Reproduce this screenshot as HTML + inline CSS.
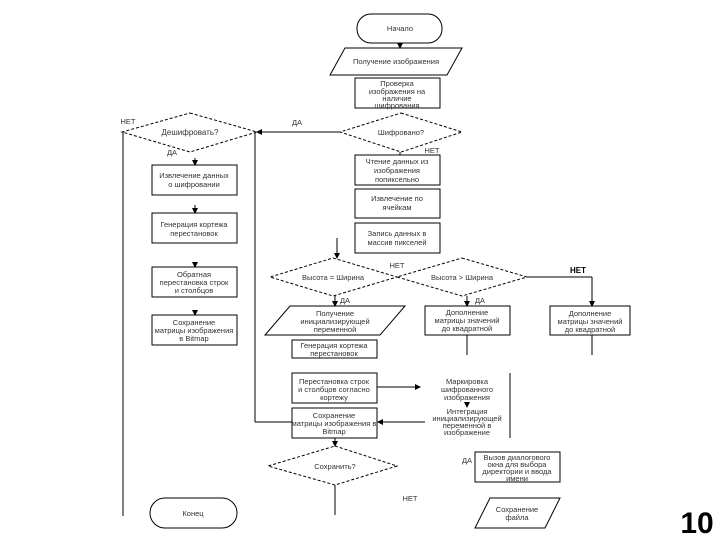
<!DOCTYPE html>
<html><head><meta charset="utf-8"><style>
html,body{margin:0;padding:0;background:#fff}
svg{display:block}
text{font-family:"Liberation Sans",sans-serif;font-size:7.5px;fill:#333;text-anchor:middle}
.s{stroke:#000;stroke-width:1;fill:none}
.d{stroke:#000;stroke-width:1;fill:none;stroke-dasharray:3,2}
</style></head><body>
<svg width="720" height="540" viewBox="0 0 720 540" xmlns="http://www.w3.org/2000/svg">
<defs><marker id="a" markerWidth="6" markerHeight="6" refX="5" refY="3" orient="auto"><path d="M0,0 L6,3 L0,6 z" fill="#000"/></marker></defs>
<!-- start -->
<rect x="357" y="14" width="85" height="29" rx="14" class="s"/>
<text x="400" y="31">Начало</text>
<line x1="400" y1="43" x2="400" y2="48" class="s" marker-end="url(#a)"/>
<polygon points="345,48 462,48 447,75 330,75" class="s"/>
<text x="396" y="64">Получение изображения</text>
<rect x="355" y="78" width="85" height="30" class="s"/>
<text x="397" y="86">Проверка</text><text x="397" y="94">изображения на</text><text x="397" y="101">наличие</text><text x="397" y="108">шифрования</text>
<polygon points="401,113 462,132 401,152 340,132" class="d"/>
<text x="401" y="135">Шифровано?</text>
<line x1="340" y1="132" x2="257" y2="132" class="s" marker-end="url(#a)"/>
<text x="297" y="125">ДА</text>
<polygon points="190,113 257,132 190,152 122,132" class="d"/>
<text x="190" y="135" style="font-size:8px">Дешифровать?</text>
<text x="128" y="124">НЕТ</text>
<line x1="123" y1="132" x2="123" y2="516" class="s"/>
<line x1="255" y1="132" x2="255" y2="422" class="s"/>
<text x="172" y="155">ДА</text>
<line x1="195" y1="158" x2="195" y2="165" class="s" marker-end="url(#a)"/>
<rect x="152" y="165" width="85" height="30" class="s"/>
<text x="194" y="178">Извлечение данных</text><text x="194" y="187">о шифровании</text>
<line x1="195" y1="205" x2="195" y2="213" class="s" marker-end="url(#a)"/>
<rect x="152" y="213" width="85" height="30" class="s"/>
<text x="194" y="227">Генерация кортежа</text><text x="194" y="236">перестановок</text>
<line x1="195" y1="262" x2="195" y2="267" class="s" marker-end="url(#a)"/>
<rect x="152" y="267" width="85" height="30" class="s"/>
<text x="194" y="277">Обратная</text><text x="194" y="285">перестановка строк</text><text x="194" y="293">и столбцов</text>
<line x1="195" y1="310" x2="195" y2="315" class="s" marker-end="url(#a)"/>
<rect x="152" y="315" width="85" height="30" class="s"/>
<text x="194" y="325">Сохранение</text><text x="194" y="333">матрицы изображения</text><text x="194" y="341">в Bitmap</text>
<!-- right column -->
<text x="432" y="153">НЕТ</text>
<line x1="400" y1="152" x2="400" y2="155" class="s"/>
<rect x="355" y="155" width="85" height="30" class="s"/>
<text x="397" y="164">Чтение данных из</text><text x="397" y="173">изображения</text><text x="397" y="182">попиксельно</text>
<rect x="355" y="189" width="85" height="29" class="s"/>
<text x="397" y="201">Извлечение по</text><text x="397" y="210">ячейкам</text>
<rect x="355" y="223" width="85" height="30" class="s"/>
<text x="397" y="236">Запись данных в</text><text x="397" y="245">массив пикселей</text>
<line x1="337" y1="238" x2="337" y2="258" class="s" marker-end="url(#a)"/>
<polygon points="333,258 397,277 333,296 270,277" class="d"/>
<text x="333" y="280">Высота = Ширина</text>
<polygon points="462,258 527,277 462,296 397,277" class="d"/>
<text x="462" y="280">Высота &gt; Ширина</text>
<text x="397" y="268">НЕТ</text>
<line x1="527" y1="277" x2="592" y2="277" class="s"/>
<line x1="592" y1="277" x2="592" y2="306" class="s" marker-end="url(#a)"/>
<text x="578" y="273" style="font-weight:bold;font-size:8px;fill:#000">НЕТ</text>
<rect x="550" y="306" width="80" height="29" class="s"/>
<text x="590" y="316">Дополнение</text><text x="590" y="324">матрицы значений</text><text x="590" y="332">до квадратной</text>
<line x1="592" y1="335" x2="592" y2="355" class="s"/>
<line x1="335" y1="296" x2="335" y2="306" class="s" marker-end="url(#a)"/>
<text x="345" y="303">ДА</text>
<line x1="467" y1="296" x2="467" y2="306" class="s" marker-end="url(#a)"/>
<text x="480" y="303">ДА</text>
<polygon points="290,306 405,306 380,335 265,335" class="s"/>
<text x="335" y="316">Получение</text><text x="335" y="324">инициализирующей</text><text x="335" y="332">переменной</text>
<rect x="425" y="306" width="85" height="29" class="s"/>
<text x="467" y="315">Дополнение</text><text x="467" y="323">матрицы значений</text><text x="467" y="331">до квадратной</text>
<line x1="467" y1="335" x2="467" y2="355" class="s"/>
<rect x="292" y="340" width="85" height="18" class="s"/>
<text x="334" y="348">Генерация кортежа</text><text x="334" y="356">перестановок</text>
<rect x="292" y="373" width="85" height="30" class="s"/>
<text x="334" y="384">Перестановка строк</text><text x="334" y="392">и столбцов согласно</text><text x="334" y="400">кортежу</text>
<line x1="377" y1="387" x2="420" y2="387" class="s" marker-end="url(#a)"/>
<line x1="510" y1="373" x2="510" y2="438" class="s"/>
<text x="467" y="384">Маркировка</text><text x="467" y="392">шифрованного</text><text x="467" y="400">изображения</text>
<line x1="467" y1="403" x2="467" y2="407" class="s" marker-end="url(#a)"/>
<text x="467" y="414">Интеграция</text><text x="467" y="421">инициализирующей</text><text x="467" y="428">переменной в</text><text x="467" y="435">изображение</text>
<rect x="292" y="408" width="85" height="30" class="s"/>
<text x="334" y="418">Сохранение</text><text x="334" y="426">матрицы изображения в</text><text x="334" y="434">Bitmap</text>
<line x1="425" y1="422" x2="378" y2="422" class="s" marker-end="url(#a)"/>
<line x1="255" y1="422" x2="292" y2="422" class="s"/>
<line x1="335" y1="438" x2="335" y2="446" class="s" marker-end="url(#a)"/>
<polygon points="335,446 397,466 335,485 268,466" class="d"/>
<text x="335" y="469">Сохранить?</text>
<line x1="335" y1="485" x2="335" y2="515" class="s"/>
<text x="467" y="463">ДА</text>
<rect x="475" y="452" width="85" height="30" class="s"/>
<text x="517" y="460">Вызов диалогового</text><text x="517" y="467">окна для выбора</text><text x="517" y="474">директории и ввода</text><text x="517" y="481">имени</text>
<text x="410" y="501">НЕТ</text>
<polygon points="490,498 560,498 545,528 475,528" class="s"/>
<text x="517" y="512">Сохранение</text><text x="517" y="520">файла</text>
<rect x="150" y="498" width="87" height="30" rx="15" class="s"/>
<text x="193" y="516">Конец</text>
<text x="697" y="533" style="font-size:30px;font-weight:bold;fill:#000">10</text>
</svg>
</body></html>
